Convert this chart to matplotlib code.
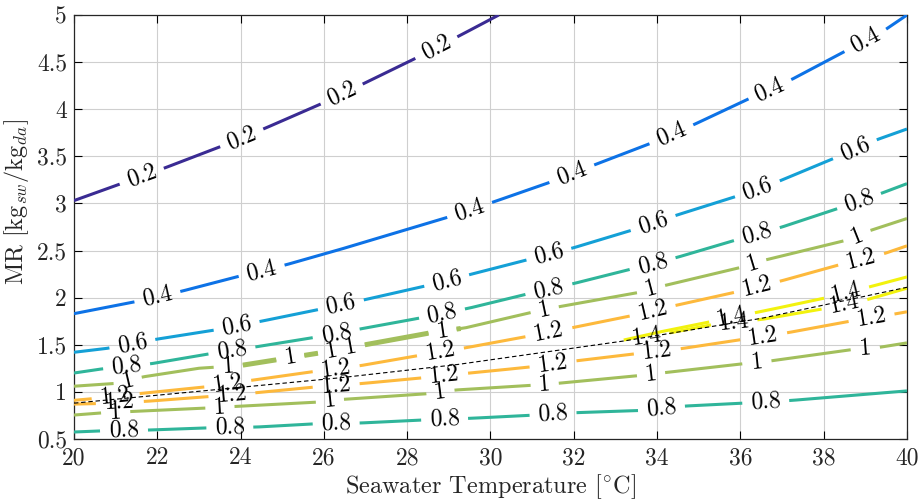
import numpy as np
import matplotlib
matplotlib.use('Agg')
import matplotlib.pyplot as plt

plt.rcParams['font.family'] = 'cmr10'
plt.rcParams['mathtext.fontset'] = 'cm'
plt.rcParams['axes.formatter.use_mathtext'] = True

# contour levels and their colours (parula-like)
levels = [0.2, 0.4, 0.6, 0.8, 1.0, 1.2, 1.4]
level_colors = ['#3a2b93', '#0d72e6', '#14a0d6', '#2fb59a', '#a2bf5c', '#fdb93c', '#f2f20e']

# contour branches: seawater temperature [C] vs MR
t_02 = [20, 22.2, 23.5, 24.6, 25.9, 26.9, 28.2, 29.3, 30.2]
mr_02 = [3.03, 3.38, 3.60, 3.80, 4.05, 4.26, 4.54, 4.79, 5.0]
lab_02 = [21.63, 24.03, 26.43, 28.7]

t_04 = [20, 21.4, 22.6, 23.9, 25.1, 26.3, 28.95, 30.1, 31.4, 32.5, 33.8, 34.9, 36.15, 37.25, 38.45, 39.5, 40]
mr_04 = [1.83, 1.95, 2.07, 2.22, 2.35, 2.50, 2.85, 3.02, 3.22, 3.41, 3.63, 3.84, 4.10, 4.32, 4.60, 4.85, 5.0]
lab_04 = [22.0, 24.5, 29.5, 31.95, 34.35, 36.7, 39.0]

t_06 = [20, 20.77, 22.0, 23.3, 24.5, 25.83, 27.0, 28.4, 29.55, 30.87, 32.0, 33.35, 34.5, 35.8, 36.95, 38.2, 39.3, 40]
mr_06 = [1.42, 1.46, 1.56, 1.65, 1.75, 1.87, 1.98, 2.12, 2.25, 2.40, 2.53, 2.71, 2.88, 3.06, 3.24, 3.47, 3.68, 3.79]
lab_06 = [21.4, 23.9, 26.4, 28.95, 31.4, 33.9, 36.4, 38.75]

t_08a = [20, 20.6, 21.87, 23.2, 24.4, 25.8, 26.9, 28.26, 29.5, 30.8, 32.0, 33.35, 34.5, 35.8, 37.0, 38.3, 39.4, 40]
mr_08a = [1.20, 1.24, 1.30, 1.40, 1.48, 1.58, 1.67, 1.78, 1.89, 2.03, 2.15, 2.30, 2.43, 2.60, 2.75, 2.94, 3.11, 3.21]
lab_08a = [21.27, 23.8, 26.3, 28.83, 31.4, 33.9, 36.4, 38.85]

t_08b = [20, 20.6, 21.8, 23.15, 24.4, 25.75, 26.9, 28.3, 29.55, 30.9, 32.1, 33.5, 34.7, 36.05, 37.25, 38.6, 40]
mr_08b = [0.574, 0.585, 0.595, 0.617, 0.627, 0.66, 0.67, 0.70, 0.72, 0.75, 0.78, 0.80, 0.85, 0.88, 0.91, 0.96, 1.01]
lab_08b = [21.2, 23.75, 26.3, 28.9, 31.5, 34.1, 36.6]

t_10a = [20, 21.0, 21.67, 22.98, 24.0, 26.0, 28.47, 29.4, 31.0, 31.6, 33.5, 34.1, 36.0, 36.6, 38.55, 39.1, 40]
mr_10a = [1.06, 1.09, 1.16, 1.25, 1.28, 1.42, 1.62, 1.68, 1.845, 1.90, 2.05, 2.12, 2.32, 2.40, 2.61, 2.71, 2.84]
lab_10a = [21.3, 23.7, 25.2, 26.2, 26.65, 28.85, 31.3, 33.85, 36.3, 38.8]

t_10b = [20, 20.6, 21.3, 23.26, 24.07, 25.8, 26.45, 28.4, 29.17, 31.0, 31.6, 33.5, 34.1, 36.1, 36.75, 38.7, 39.3, 40]
mr_10b = [0.754, 0.775, 0.79, 0.83, 0.85, 0.89, 0.92, 0.977, 1.02, 1.07, 1.09, 1.17, 1.20, 1.30, 1.33, 1.45, 1.47, 1.52]
lab_10b = [21.0, 23.5, 26.15, 28.8, 31.3, 33.85, 36.4, 39.0]

t_12a = [20, 20.5, 21.75, 23.1, 24.3, 25.66, 26.9, 28.2, 29.43, 30.78, 31.95, 33.3, 34.47, 35.8, 37.0, 38.3, 39.47, 40]
mr_12a = [0.91, 0.93, 0.99, 1.05, 1.125, 1.21, 1.28, 1.38, 1.47, 1.58, 1.68, 1.80, 1.92, 2.05, 2.18, 2.34, 2.47, 2.55]
lab_12a = [21.0, 23.7, 26.3, 28.8, 31.4, 33.9, 36.4, 38.9]

t_12b = [20, 20.5, 21.75, 23.1, 24.35, 25.75, 26.95, 28.3, 29.5, 30.87, 32.07, 33.4, 34.6, 35.95, 37.16, 38.5, 39.75, 40]
mr_12b = [0.87, 0.875, 0.90, 0.945, 0.99, 1.05, 1.09, 1.146, 1.20, 1.26, 1.33, 1.40, 1.46, 1.55, 1.63, 1.74, 1.83, 1.85]
lab_12b = [21.1, 23.8, 26.3, 28.9, 31.5, 34.0, 36.55, 39.15]

t_14a = [33.2, 34.0, 35.4, 36.63, 37.97, 39.15, 40]
mr_14a = [1.55, 1.63, 1.755, 1.865, 1.99, 2.12, 2.22]
lab_14a = [35.8, 38.55]

t_14b = [33.2, 34.0, 35.4, 36.53, 37.97, 39.05, 40]
mr_14b = [1.55, 1.60, 1.72, 1.77, 1.88, 1.98, 2.10]
lab_14b = [33.75, 35.85, 38.5]

# optimum MR line (dashed)
t_opt = [20, 23.8, 26.4, 29.2, 33.2, 36.5, 40]
mr_opt = [0.88, 1.04, 1.15, 1.29, 1.54, 1.78, 2.11]

x_ticks = list(range(20, 41, 2))
y_ticks = [0.5, 1, 1.5, 2, 2.5, 3, 3.5, 4, 4.5, 5]

branches = [
    (0.2, t_02, mr_02, lab_02),
    (0.4, t_04, mr_04, lab_04),
    (0.6, t_06, mr_06, lab_06),
    (0.8, t_08a, mr_08a, lab_08a),
    (0.8, t_08b, mr_08b, lab_08b),
    (1.0, t_10a, mr_10a, lab_10a),
    (1.0, t_10b, mr_10b, lab_10b),
    (1.2, t_12a, mr_12a, lab_12a),
    (1.2, t_12b, mr_12b, lab_12b),
    (1.4, t_14a, mr_14a, lab_14a),
    (1.4, t_14b, mr_14b, lab_14b),
]

fig = plt.figure(figsize=(9.21, 5.01), dpi=100)
ax = fig.add_axes([0.0803, 0.1238, 0.9045, 0.8463])
ax.set_xlim(20, 40)
ax.set_ylim(0.5, 5)
renderer = fig.canvas.get_renderer()


def draw_branch(lev, t, mr, lab_t, thick=None):
    color = level_colors[levels.index(lev)]
    tt = np.linspace(t[0], t[-1], 800)
    yy = np.interp(tt, t, mr)
    pts = ax.transData.transform(np.column_stack([tt, yy]))
    keep = np.ones(len(tt), bool)
    for lt in lab_t:
        ly = np.interp(lt, t, mr)
        p0 = ax.transData.transform((lt - 0.3, np.interp(lt - 0.3, t, mr)))
        p1 = ax.transData.transform((lt + 0.3, np.interp(lt + 0.3, t, mr)))
        ang = np.degrees(np.arctan2(p1[1] - p0[1], p1[0] - p0[0]))
        txt = ax.text(lt, ly, f'{lev:g}', fontsize=17, ha='center', va='center',
                      rotation_mode='anchor', color='k', zorder=4)
        w = txt.get_window_extent(renderer).width
        txt.set_rotation(ang)
        c = ax.transData.transform((lt, ly))
        keep &= np.hypot(pts[:, 0] - c[0], pts[:, 1] - c[1]) > w / 2 + 8
    ax.plot(tt, np.where(keep, yy, np.nan), color=color, lw=2.2,
            solid_capstyle='butt', zorder=3)
    if thick is not None:
        sel = keep & (tt >= thick[0]) & (tt <= thick[1])
        ax.plot(tt, np.where(sel, yy, np.nan), color=color, lw=3.6,
                solid_capstyle='butt', zorder=3)


for lev, t, mr, lab_t in branches:
    draw_branch(lev, t, mr, lab_t, thick=(24.0, 29.3) if (lev == 1.0 and t is t_10a) else None)

ax.plot(t_opt, mr_opt, color='k', lw=0.8, ls=(0, (4, 2.5)), zorder=5)

ax.set_xticks(x_ticks)
ax.set_xticklabels([str(v) for v in x_ticks])
ax.set_yticks(y_ticks)
ax.set_yticklabels([f'{v:g}' for v in y_ticks])
ax.tick_params(direction='in', length=6, width=0.8, top=True, right=True,
               labelsize=17, labelcolor='#262626')
ax.tick_params(axis='x', pad=6)
ax.tick_params(axis='y', pad=5)
ax.grid(True, color='#cfcfcf', lw=0.8)
ax.set_axisbelow(True)
for s in ax.spines.values():
    s.set_linewidth(0.9)
    s.set_color('#262626')

ax.set_xlabel(r'Seawater Temperature [$^{\circ}$C]', fontsize=17.5, color='#262626')
ax.xaxis.set_label_coords(0.5, -0.078)
ax.set_ylabel(r'MR [kg$_{sw}$/kg$_{da}$]', fontsize=17.5, color='#262626')
ax.yaxis.set_label_coords(-0.052, 0.56)

fig.savefig('out.png', dpi=100)
